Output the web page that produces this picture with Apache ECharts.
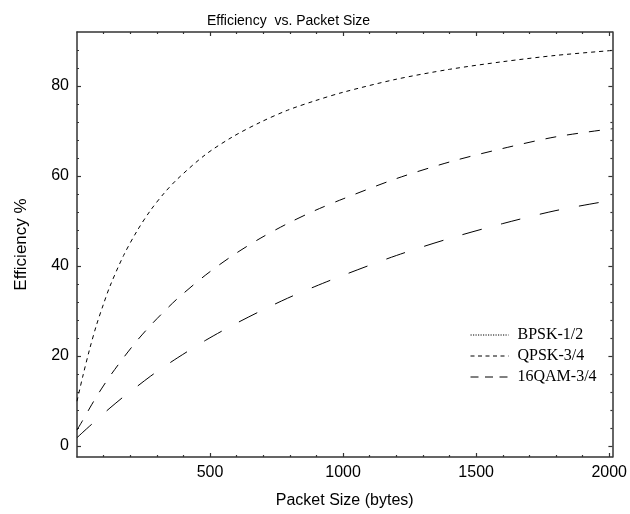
<!DOCTYPE html>
<html>
<head>
<meta charset="utf-8">
<script src="https://cdn.jsdelivr.net/npm/echarts@6/dist/echarts.min.js"></script>
<style>html,body{margin:0;padding:0;background:#fff}#c{width:630px;height:514px}</style>
</head>
<body>
<div id="c"></div>
<script>
// ---- data ----
var packetSize = [0, 22, 48, 73, 99, 124, 175, 226, 277, 328, 379, 482, 585, 688, 791, 894, 1000, 1200, 1400, 1600, 1800, 2012];
var bpsk  = [9.9, 15.5, 21.6, 26.8, 31.4, 35.5, 42.3, 47.8, 52.4, 56.2, 59.4, 64.7, 68.7, 71.9, 74.6, 76.7, 78.6, 81.5, 83.7, 85.4, 86.8, 87.9];
var qpsk  = [3.5, 5.7, 8.4, 10.9, 13.3, 15.5, 19.6, 23.4, 26.8, 29.9, 32.8, 37.9, 42.3, 46.1, 49.4, 52.3, 54.9, 59.4, 63.1, 66.1, 68.7, 70.5];
var qam16 = [1.8, 3.0, 4.4, 5.7, 7.1, 8.4, 10.9, 13.2, 15.5, 17.6, 19.6, 23.4, 26.8, 29.9, 32.8, 35.4, 37.9, 42.3, 46.1, 49.4, 52.3, 54.6];
var seriesNames = ['BPSK-1/2', 'QPSK-3/4', '16QAM-3/4'];
var xTickLabels = [500, 1000, 1500, 2000];
var yTickLabels = [0, 20, 40, 60, 80];
var xMajorTicks = [500, 1000, 1500, 2000];
var xMinorTicks = [100, 200, 300, 400, 600, 700, 800, 900, 1100, 1200, 1300, 1400, 1600, 1700, 1800, 1900];
var yMajorTicks = [0, 20, 40, 60, 80];
var yMinorTicks = [4, 8, 12, 16, 24, 28, 32, 36, 44, 48, 52, 56, 64, 68, 72, 76, 84, 88];

function pairs(xs, ys) { return xs.map(function (x, i) { return [x, ys[i]]; }); }

var XMIN = 0, XMAX = 2012, YMIN = -2.5, YMAX = 92;
var axisColor = '#333';
var sans = 'Liberation Sans, Arial, sans-serif';

function labelCfg(labels, margin) {
  return labels ? { show: true, customValues: labels, color: '#000', fontFamily: sans, fontSize: 16, margin: margin,
    formatter: function (v) { return String(v); } } : { show: false };
}
function xAx(pos, ticks, len, labels, line) {
  return {
    type: 'value', position: pos, min: XMIN, max: XMAX,
    axisLine: { show: line, onZero: false, lineStyle: { color: axisColor, width: 1.5 } },
    axisTick: { show: true, inside: true, length: len, customValues: ticks, lineStyle: { color: axisColor, width: 1.2 } },
    axisLabel: labelCfg(labels, 8),
    splitLine: { show: false }
  };
}
function yAx(pos, ticks, len, labels, line) {
  return {
    type: 'value', position: pos, min: YMIN, max: YMAX,
    axisLine: { show: line, onZero: false, lineStyle: { color: axisColor, width: 1.5 } },
    axisTick: { show: true, inside: true, length: len, customValues: ticks, lineStyle: { color: axisColor, width: 1.2 } },
    axisLabel: labelCfg(labels, 8),
    splitLine: { show: false }
  };
}

var xAxes = [
  xAx('bottom', xMajorTicks, 4, xTickLabels, true),
  xAx('bottom', xMinorTicks, 2, null, false),
  xAx('top', xMajorTicks, 4, null, true),
  xAx('top', xMinorTicks, 2, null, false)
];
xAxes[0].name = 'Packet Size (bytes)';
xAxes[0].nameLocation = 'middle';
xAxes[0].nameGap = 36;
xAxes[0].nameTextStyle = { color: '#000', fontFamily: sans, fontSize: 16 };

var yAxes = [
  yAx('left', yMajorTicks, 4, yTickLabels, true),
  yAx('left', yMinorTicks, 2, null, false),
  yAx('right', yMajorTicks, 4, null, true),
  yAx('right', yMinorTicks, 2, null, false)
];
yAxes[0].name = 'Efficiency %';
yAxes[0].nameLocation = 'middle';
yAxes[0].nameGap = 47;
yAxes[0].nameTextStyle = { color: '#000', fontFamily: sans, fontSize: 17 };

var hidden = { opacity: 0 };
var chart = echarts.init(document.getElementById('c'), null, { renderer: 'canvas' });
chart.setOption({
  backgroundColor: '#fff',
  animation: false,
  title: {
    text: 'Efficiency  vs. Packet Size', left: 202, top: 9,
    textStyle: { color: '#000', fontFamily: sans, fontSize: 14, fontWeight: 'normal' }
  },
  grid: { left: 77, right: 14, top: 32, bottom: 52 },
  legend: {
    orient: 'vertical', left: 465, top: 322, itemWidth: 38, itemHeight: 14, itemGap: 5,
    itemStyle: { opacity: 0 },
    textStyle: { color: '#000', fontFamily: 'Liberation Serif, Times New Roman, serif', fontSize: 16, padding: [0, 0, 0, 4] },
    data: [
      { name: seriesNames[0], itemStyle: hidden, lineStyle: { type: [1.2, 1.3], width: 1, color: '#000' } },
      { name: seriesNames[1], itemStyle: hidden, lineStyle: { type: [4, 3.5], width: 1, color: '#000' } },
      { name: seriesNames[2], itemStyle: hidden, lineStyle: { type: [8, 6.5], width: 1, color: '#000' } }
    ]
  },
  xAxis: xAxes,
  yAxis: yAxes,
  series: [
    { name: seriesNames[0], type: 'line', symbol: 'none', smooth: 0.3, data: pairs(packetSize, bpsk),
      lineStyle: { color: '#000', width: 1, type: [4, 4] }, itemStyle: { color: '#000' } },
    { name: seriesNames[1], type: 'line', symbol: 'none', smooth: 0.3, data: pairs(packetSize, qpsk),
      lineStyle: { color: '#000', width: 1, type: [11, 11] }, itemStyle: { color: '#000' } },
    { name: seriesNames[2], type: 'line', symbol: 'none', smooth: 0.3, data: pairs(packetSize, qam16),
      lineStyle: { color: '#000', width: 1, type: [20, 20] }, itemStyle: { color: '#000' } }
  ]
});
</script>
</body>
</html>
